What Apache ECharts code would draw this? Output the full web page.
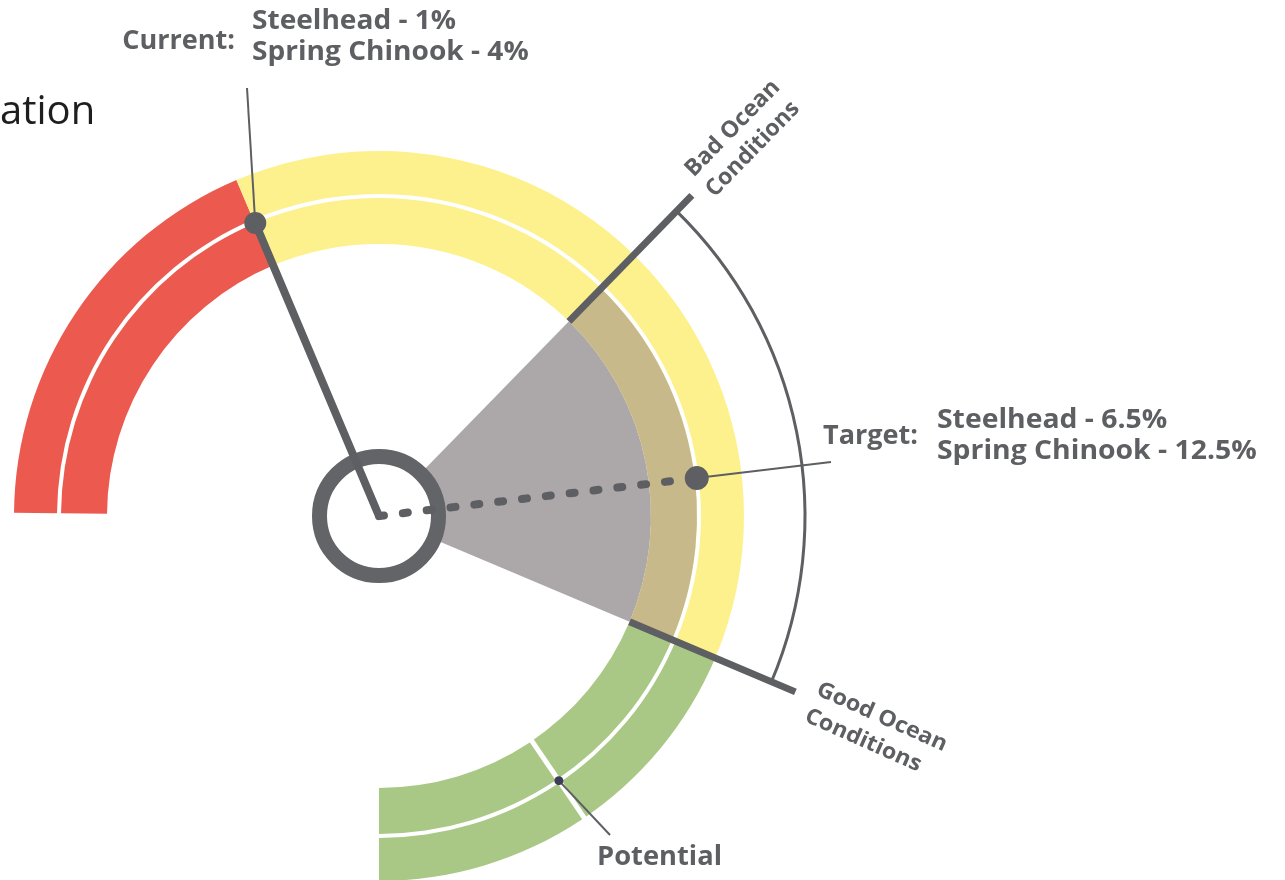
<!DOCTYPE html>
<html>
<head>
<meta charset="utf-8">
<script src="https://cdn.jsdelivr.net/npm/echarts@6/dist/echarts.min.js"></script>
<style>
html,body{margin:0;padding:0;background:#ffffff;}
#chart{width:1285px;height:880px;}
</style>
</head>
<body>
<div id="chart"></div>
<script>
// ---------------- data (angles in degrees, 0 = right, counter-clockwise) ----------------
const zoneNames = ['Below', 'Uncertain', 'Recovery'];
const zoneFrom = [113, -22.9, -90];
const zoneTo = [179.5, 113, -22.9];
const oceanConditions = ['Bad Ocean Conditions', 'Good Ocean Conditions'];
const oceanAngles = [45.7, -22.9];
const currentAngle = 112.9;
const targetAngle = 6.8;
const potentialAngle = -55.8;
const currentLabels = ['Steelhead - 1%', 'Spring Chinook - 4%'];
const targetLabels = ['Steelhead - 6.5%', 'Spring Chinook - 12.5%'];
const titleFragment = 'ation';

// ---------------- style / layout ----------------
const zoneColors = ['#ec5a4f', '#fdf18e', '#a9c885'];
const innerBand = [272, 318];
const outerBand = [322, 365];
const wedgeColor = '#aca8a9';
const wedgeOnBand = '#c8b98a';
const dark = '#5e5f62';
const txt = '#5e5f62';
const FONT = '"Open Sans", "Liberation Sans", sans-serif';

function helpers(api) {
  const C = api.coord([0, 0]);
  const pt = (r, a) => api.coord([r, a]);
  const dist = p => Math.hypot(p[0] - C[0], p[1] - C[1]);
  const ang = p => Math.atan2(p[1] - C[1], p[0] - C[0]);
  function sector(r0, r1, a0, a1, fill) {
    const lo = pt(r1, a0), hi = pt(r1, a1);
    const R1 = dist(lo);
    const R0 = r0 > 0 ? dist(pt(r0, a0)) : 0;
    const s = ang(hi);
    let e = ang(lo);
    while (e <= s) e += Math.PI * 2;
    return { type: 'sector', shape: { cx: C[0], cy: C[1], r0: R0, r: R1, startAngle: s, endAngle: e, clockwise: true }, style: { fill: fill } };
  }
  function arc(r, a0, a1, stroke, w) {
    const lo = pt(r, a0), hi = pt(r, a1);
    const s = ang(hi);
    let e = ang(lo);
    while (e <= s) e += Math.PI * 2;
    return { type: 'arc', shape: { cx: C[0], cy: C[1], r: dist(lo), startAngle: s, endAngle: e, clockwise: true }, style: { stroke: stroke, lineWidth: w, fill: null } };
  }
  function radial(r0, r1, a, stroke, w, extra) {
    const p0 = pt(r0, a), p1 = pt(r1, a);
    return { type: 'line', shape: { x1: p0[0], y1: p0[1], x2: p1[0], y2: p1[1] }, style: Object.assign({ stroke: stroke, lineWidth: w }, extra || {}) };
  }
  return { C, pt, dist, sector, arc, radial };
}

function label(x, y, text, size, align, sx) {
  return { type: 'text', x: x, y: y, scaleX: sx || 1, style: { text: text, fill: txt, fontSize: size, fontFamily: FONT, fontWeight: 'bold', align: align, verticalAlign: 'middle' } };
}

const option = {
  animation: false,
  backgroundColor: '#ffffff',
  polar: { center: [379, 516], radius: 470 },
  angleAxis: { type: 'value', min: -90, max: 270, startAngle: -90, clockwise: false, show: false },
  radiusAxis: { type: 'value', min: 0, max: 470, show: false },
  series: [
    {
      name: 'zones', type: 'custom', coordinateSystem: 'polar', z: 1,
      data: zoneNames.map((n, i) => ({ name: n, value: [zoneFrom[i], zoneTo[i], i] })),
      renderItem: function (params, api) {
        const h = helpers(api);
        const a0 = api.value(0), a1 = api.value(1), c = zoneColors[api.value(2)];
        return { type: 'group', children: [
          h.sector(innerBand[0], innerBand[1], a0, a1, c),
          h.sector(outerBand[0], outerBand[1], a0, a1, c)
        ] };
      }
    },
    {
      name: 'ocean', type: 'custom', coordinateSystem: 'polar', z: 2,
      data: [{ name: oceanConditions.join(' / '), value: [oceanAngles[0], oceanAngles[1]] }],
      renderItem: function (params, api) {
        const h = helpers(api);
        const bad = api.value(0), good = api.value(1);
        return { type: 'group', children: [
          h.sector(0, innerBand[0], good, bad, wedgeColor),
          h.sector(innerBand[0], innerBand[1], good, bad, wedgeOnBand),
          h.arc(426, good, bad, dark, 3),
          h.radial(innerBand[0], 448, bad, dark, 7),
          h.radial(innerBand[0], 452, good, dark, 7)
        ] };
      }
    },
    {
      name: 'potential', type: 'custom', coordinateSystem: 'polar', z: 3,
      data: [{ name: 'Potential', value: [potentialAngle] }],
      renderItem: function (params, api) {
        const h = helpers(api);
        const a = api.value(0);
        const d = h.pt(320, a);
        return { type: 'group', children: [
          h.radial(innerBand[0] - 2, outerBand[1] + 1, a, '#ffffff', 5),
          { type: 'line', shape: { x1: d[0], y1: d[1], x2: 610, y2: 835 }, style: { stroke: dark, lineWidth: 2 } },
          { type: 'circle', shape: { cx: d[0], cy: d[1], r: 4.5 }, style: { fill: '#3c3e55' } }
        ] };
      }
    },
    {
      name: 'hub', type: 'custom', coordinateSystem: 'polar', z: 4,
      data: [{ name: 'hub', value: [0] }],
      renderItem: function (params, api) {
        const h = helpers(api);
        return { type: 'circle', shape: { cx: h.C[0], cy: h.C[1], r: 59.5 }, style: { fill: '#ffffff', stroke: '#636467', lineWidth: 15 } };
      }
    },
    {
      name: 'target', type: 'custom', coordinateSystem: 'polar', z: 5,
      data: [{ name: 'Target', value: [targetAngle] }],
      renderItem: function (params, api) {
        const h = helpers(api);
        const a = api.value(0);
        const d = h.pt(320, a);
        return { type: 'group', children: [
          h.radial(0, 306, a, dark, 8, { lineDash: [5, 19], lineCap: 'round' }),
          { type: 'line', shape: { x1: d[0], y1: d[1], x2: 831, y2: 462 }, style: { stroke: dark, lineWidth: 2 } },
          { type: 'circle', shape: { cx: d[0], cy: d[1], r: 12 }, style: { fill: dark } }
        ] };
      }
    },
    {
      name: 'current', type: 'custom', coordinateSystem: 'polar', z: 6,
      data: [{ name: 'Current', value: [currentAngle] }],
      renderItem: function (params, api) {
        const h = helpers(api);
        const a = api.value(0);
        const d = h.pt(318, a);
        return { type: 'group', children: [
          h.radial(0, 318, a, dark, 8, { lineCap: 'round' }),
          { type: 'line', shape: { x1: d[0], y1: d[1], x2: 247, y2: 88 }, style: { stroke: dark, lineWidth: 2 } },
          { type: 'circle', shape: { cx: d[0], cy: d[1], r: 11 }, style: { fill: dark } }
        ] };
      }
    }
  ],
  graphic: [
    { type: 'text', x: 0, y: 113, style: { text: titleFragment, fill: '#1e1e1e', fontSize: 40, fontFamily: FONT, fontWeight: 'normal', align: 'left', verticalAlign: 'middle' } },
    label(235, 42, 'Current:', 26, 'right', 1.04),
    label(252, 22, currentLabels[0], 26, 'left', 1.08),
    label(252, 53, currentLabels[1], 26, 'left', 1.08),
    label(918, 437, 'Target:', 26, 'right', 1.04),
    label(937, 421, targetLabels[0], 26, 'left', 1.09),
    label(937, 452, targetLabels[1], 26, 'left', 1.09),
    label(597, 858, 'Potential', 26, 'left', 1.05),
    { type: 'group', x: 694, y: 178, rotation: 45.7 * Math.PI / 180, children: [
      label(0, -7, 'Bad Ocean', 23, 'left', 1.02),
      label(0, 22, 'Conditions', 23, 'left', 1.0)
    ] },
    { type: 'group', x: 815, y: 695, rotation: -24 * Math.PI / 180, children: [
      label(0, -7, 'Good Ocean', 22, 'left', 1.06),
      label(0, 22, 'Conditions', 22, 'left', 1.06)
    ] }
  ]
};

const chart = echarts.init(document.getElementById('chart'), null, { renderer: 'canvas' });
chart.setOption(option);
</script>
</body>
</html>
